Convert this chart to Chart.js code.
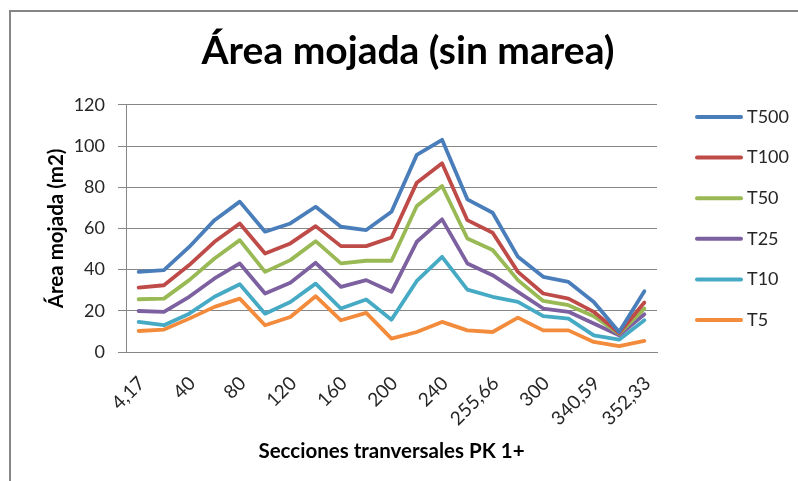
<!DOCTYPE html>
<html>
<head>
<meta charset="utf-8">
<script src="https://cdn.jsdelivr.net/npm/chart.js@4.4.1/dist/chart.umd.min.js"></script>
<style>
  html, body { margin: 0; padding: 0; background: #fff; overflow: hidden; }
  #frame { position: absolute; left: 9px; top: 10px; width: 820px; height: 500px; border: 2px solid #868686; box-sizing: border-box; pointer-events: none; }
  canvas { position: absolute; left: 0; top: 0; }
</style>
</head>
<body>
<canvas id="chart" width="798" height="481"></canvas>
<div id="frame"></div>
<script>
// Secciones transversales (PK 1+), only every other one is labelled on the axis
const secciones = ['4,17', '20', '40', '60', '80', '100', '120', '140', '160', '180', '200',
  '220', '240', '250', '255,66', '280', '300', '320', '340,59', '350', '352,33'];

// Área mojada (m2) per return period
const t500 = [38.9, 39.7, 51, 64, 73, 58.4, 62.4, 70.5, 60.8, 59.2, 68.1, 95.7, 103, 74.1, 67.6, 46.2, 36.5, 34, 24.3, 9.7, 29.5];
const t100 = [31.3, 32.4, 42.2, 53.5, 62.4, 47.8, 52.7, 61.1, 51.4, 51.4, 55.6, 82.2, 91.6, 64, 57.9, 38.9, 28.4, 25.9, 19.5, 9.2, 24];
const t50  = [25.6, 25.9, 34.9, 45.4, 54.3, 38.9, 44.6, 53.8, 43, 44.3, 44.3, 70.9, 80.6, 55.1, 49.5, 34.9, 24.8, 22.7, 17.4, 8.9, 21.1];
const t25  = [19.9, 19.5, 26.8, 35.7, 43, 28.4, 33.6, 43.3, 31.6, 34.9, 29.2, 53.5, 64.4, 43, 37.3, 29.2, 21.1, 19.5, 13.8, 8.1, 18.3];
const t10  = [14.6, 13, 18.6, 26.8, 32.9, 18.6, 24.3, 33.2, 21.1, 25.5, 15.7, 34.5, 46.2, 30.3, 26.8, 24.3, 17.4, 16.2, 8.1, 6, 15.4];
const t5   = [10.2, 10.9, 16.2, 21.9, 25.9, 13, 17, 27.1, 15.4, 19, 6.5, 9.7, 14.6, 10.5, 9.7, 16.7, 10.5, 10.5, 4.9, 2.8, 5.4];

const seriesNames = ['T500', 'T100', 'T50', 'T25', 'T10', 'T5'];
const seriesData = [t500, t100, t50, t25, t10, t5];
const seriesColors = ['#4A7EBB', '#BE4B48', '#98B954', '#7D60A0', '#46AAC5', '#F38B3C'];

const yTicks = [0, 20, 40, 60, 80, 100, 120];

const GRID = '#868686';
const TEXT = '#262626';

Chart.defaults.font.family = "Lato, 'Open Sans', sans-serif";

// Excel-style legend: line sample + name, stacked to the right of the plot
const sideLegend = {
  id: 'sideLegend',
  afterDraw(chart) {
    const ctx = chart.ctx;
    ctx.save();
    chart.data.datasets.forEach((ds, i) => {
      const y = 117 + i * 40.6;
      ctx.beginPath();
      ctx.strokeStyle = ds.borderColor;
      ctx.lineWidth = 4;
      ctx.lineCap = 'round';
      ctx.moveTo(697, y);
      ctx.lineTo(741, y);
      ctx.stroke();
      ctx.fillStyle = TEXT;
      ctx.font = "18px Lato, 'Open Sans', sans-serif";
      ctx.textBaseline = 'middle';
      ctx.textAlign = 'left';
      ctx.fillText(ds.label, 747, y);
    });
    ctx.restore();
  }
};

new Chart(document.getElementById('chart'), {
  type: 'line',
  data: {
    labels: secciones,
    datasets: seriesNames.map((name, i) => ({
      label: name,
      data: seriesData[i],
      borderColor: seriesColors[i],
      backgroundColor: seriesColors[i],
      borderWidth: 3.8,
      borderJoinStyle: 'round',
      borderCapStyle: 'round',
      pointRadius: 0,
      tension: 0,
      fill: false,
    }))
  },
  options: {
    responsive: false,
    devicePixelRatio: 1,
    animation: false,
    layout: { padding: { left: 18, right: 0, top: 0, bottom: 0 } },
    scales: {
      x: {
        type: 'category',
        offset: true,
        grid: { display: false },
        border: { display: true, color: GRID, width: 1 },
        ticks: {
          autoSkip: false,
          minRotation: 45,
          maxRotation: 45,
          padding: 12,
          labelOffset: 3,
          color: TEXT,
          font: { size: 19 },
          callback(value, index) { return index % 2 === 0 ? this.getLabelForValue(value) : ''; }
        },
        title: {
          display: true,
          text: 'Secciones tranversales PK 1+',
          color: '#000',
          font: { size: 20.5, weight: 'bold' },
          padding: { top: 0, bottom: 17 }
        },
        afterFit(scale) { scale.height = 129; }
      },
      y: {
        min: 0,
        max: 120,
        afterBuildTicks(scale) { scale.ticks = yTicks.map(v => ({ value: v })); },
        grid: { color: GRID, lineWidth: 1, tickLength: 8 },
        border: { display: true, color: GRID, width: 1 },
        ticks: {
          padding: 13,
          color: TEXT,
          font: { size: 18 }
        },
        title: {
          display: true,
          text: 'Área mojada (m2)',
          color: '#000',
          font: { size: 20.5, weight: 'bold' },
          padding: { top: 26, bottom: 0 }
        },
        afterFit(scale) { scale.width = 108; }
      },
      // empty right axis: keeps room for the legend column
      legendSpace: {
        type: 'linear',
        position: 'right',
        grid: { display: false },
        border: { display: false },
        ticks: { display: false },
        afterFit(scale) { scale.width = 141; }
      }
    },
    plugins: {
      legend: { display: false },
      tooltip: { enabled: false },
      title: {
        display: true,
        text: 'Área mojada (sin marea)',
        color: '#000',
        font: { size: 39, weight: 'bold' },
        padding: { top: 28, bottom: 30 }
      }
    }
  },
  plugins: [sideLegend]
});
</script>
</body>
</html>
